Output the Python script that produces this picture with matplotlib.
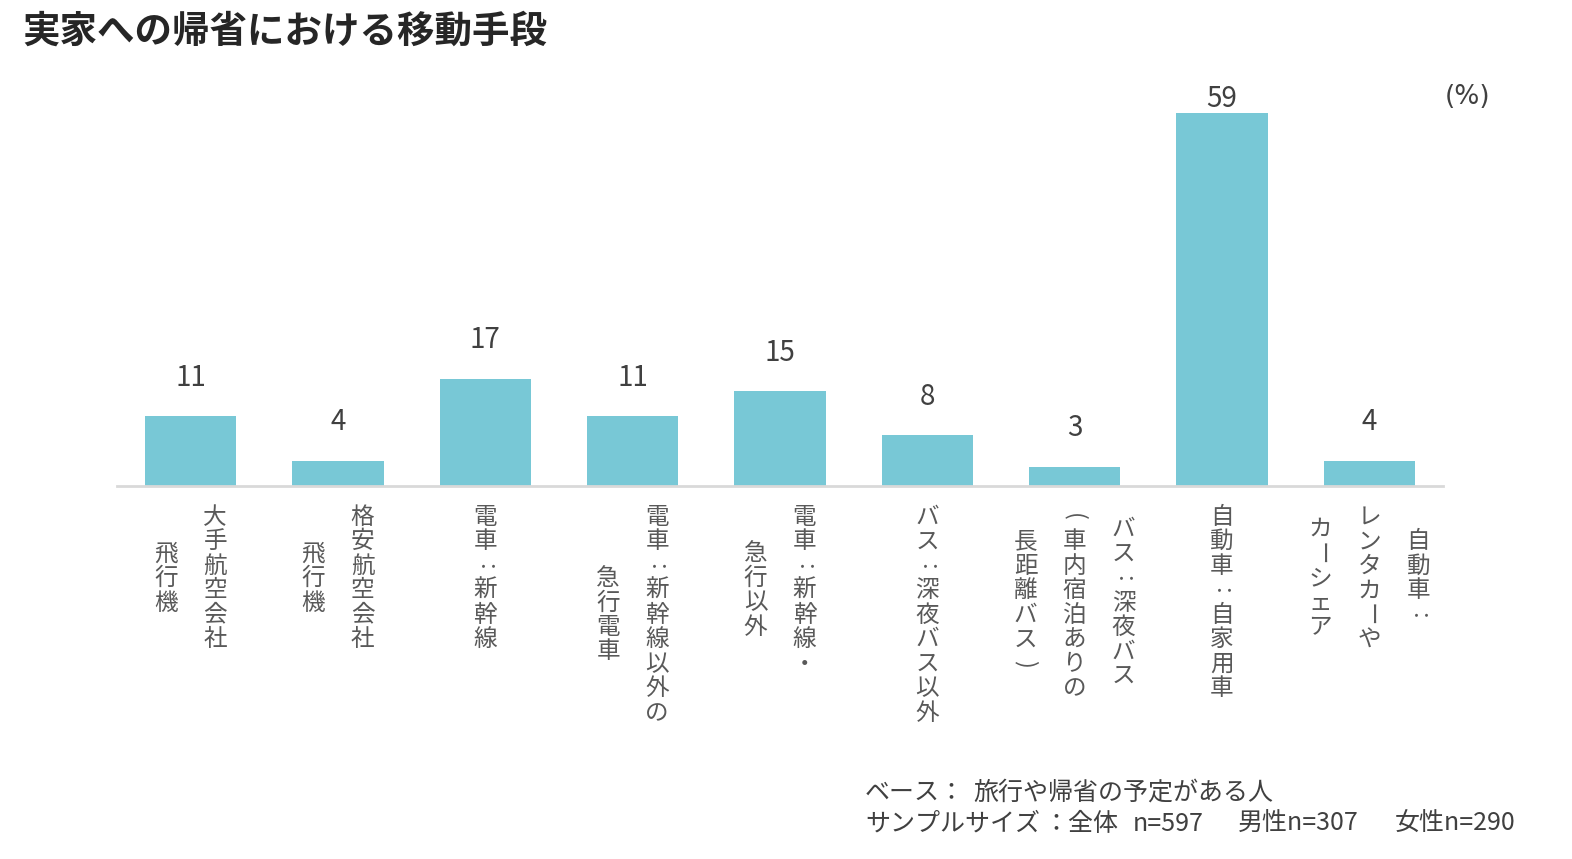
import matplotlib
matplotlib.use("Agg")
import matplotlib.pyplot as plt
from matplotlib import transforms

plt.rcParams['font.family'] = ['Noto Sans CJK JP', 'DejaVu Sans']

# data
values = [11, 4, 17, 11, 15, 8, 3, 59, 4]
# each label: columns of vertical text, right column first
labels = [
    ["大手航空会社", "飛行機"],
    ["格安航空会社", "飛行機"],
    ["電車:新幹線"],
    ["電車:新幹線以外の", "急行電車"],
    ["電車:新幹線・", "急行以外"],
    ["バス:深夜バス以外"],
    ["バス:深夜バス", "(車内宿泊ありの", "長距離バス)"],
    ["自動車:自家用車"],
    ["自動車:", "レンタカーや", "カーシェア"],
]
title = "実家への帰省における移動手段"
unit = "(%)"
# footnote pieces with their left edge in pixels
note1 = [("ベース：", 865), ("旅行や帰省の予定がある人", 973)]
note2 = [("サンプルサイズ", 865), ("：全体", 1043), ("n=597", 1133),
         ("男性n=307", 1238), ("女性n=290", 1395)]

W, H = 1572, 859
fig = plt.figure(figsize=(W / 100, H / 100), dpi=100)
ax = fig.add_axes([117 / W, 1 - 486 / H, 1326 / W, 411 / H])

x = list(range(len(values)))
ax.bar(x, values, width=0.62, color='#78C8D6')
ax.set_xlim(-0.5, len(values) - 0.5)
ax.set_ylim(0, 65)
ax.axhline(0, color='#D9D9D9', lw=2, clip_on=False)
for s in ax.spines.values():
    s.set_visible(False)
ax.set_xticks([])
ax.set_yticks([])

# value labels (the tall bar's label is kept inside the plot area)
for i, v in zip(x, values):
    ax.text(i, min(v + 6.1, 61.2), str(v), ha='center', va='center',
            fontsize=20, color='#404040')

# vertical category labels
trans = transforms.blended_transform_factory(ax.transData, fig.transFigure)
col_gap = 49 / 147.33
pitch = 24.5
top = 505
rotated = set(":ー()")
for i, cols in enumerate(labels):
    n = len(cols)
    longest = max(len(c) for c in cols)
    for k, col in enumerate(cols):
        cx = i + (n - 1) / 2 * col_gap - k * col_gap
        start = (longest - len(col)) / 2
        for j, ch in enumerate(col):
            py = top + (start + j + 0.5) * pitch
            ax.text(cx, 1 - py / H, ch, transform=trans, ha='center', va='center',
                    fontsize=17, color='#595959',
                    rotation=-90 if ch in rotated else 0)

fig.text(22 / W, 1 - 31 / H, title, fontsize=27, fontweight='bold',
         color='#262626', ha='left', va='center')
fig.text(1468 / W, 1 - 97 / H, unit, fontsize=19, color='#404040',
         ha='center', va='center', family='DejaVu Sans')
for txt, px in note1:
    fig.text(px / W, 1 - 793 / H, txt, fontsize=18, color='#404040',
             ha='left', va='center')
for txt, px in note2:
    fig.text(px / W, 1 - 824 / H, txt, fontsize=18, color='#404040',
             ha='left', va='center')

fig.savefig("out.png", dpi=100)
